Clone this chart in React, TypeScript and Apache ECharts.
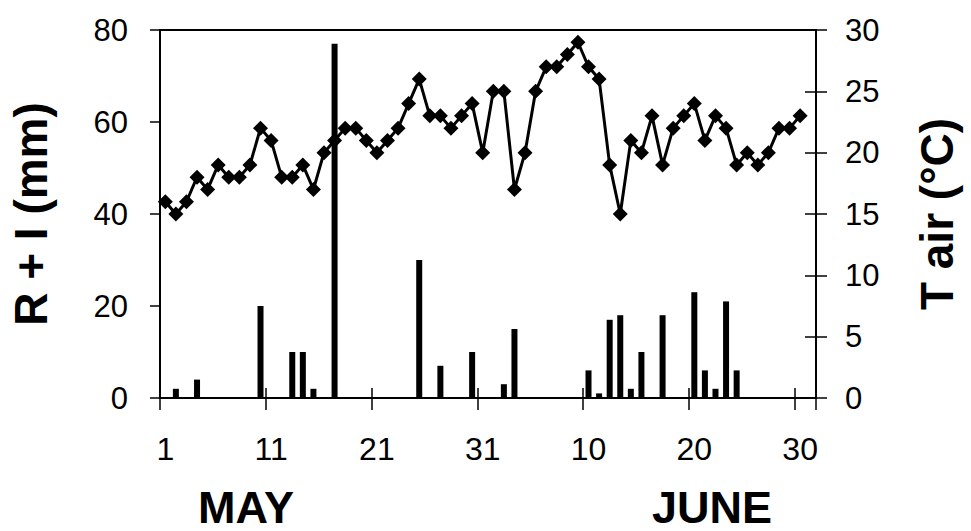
import React, { useEffect, useRef } from "react";
import * as echarts from "echarts";

// Day-of-month category labels: May 1–31, June 1–30, July 1
const mayDays: string[] = Array.from({ length: 31 }, (_, i) => String(i + 1));
const juneDays: string[] = Array.from({ length: 30 }, (_, i) => String(i + 1));
const julyDays: string[] = ["1"];
const categories: string[] = [...mayDays, ...juneDays, ...julyDays];

// Rain + irrigation (mm), one value per day
const rainIrrigation: number[] = [
  0, 2, 0, 4, 0, 0, 0, 0, 0, 20,
  0, 0, 10, 10, 2, 0, 77, 0, 0, 0,
  0, 0, 0, 0, 30, 0, 7, 0, 0, 10,
  0, 0, 3, 15, 0, 0, 0, 0, 0, 0,
  6, 1, 17, 18, 2, 10, 0, 18, 0, 0,
  23, 6, 2, 21, 6, 0, 0, 0, 0, 0,
  0, 0,
];

// Mean air temperature (°C), one value per day
const airTemp: (number | null)[] = [
  16, 15, 16, 18, 17, 19, 18, 18, 19, 22,
  21, 18, 18, 19, 17, 20, 21, 22, 22, 21,
  20, 21, 22, 24, 26, 23, 23, 22, 23, 24,
  20, 25, 25, 17, 20, 25, 27, 27, 28, 29,
  27, 26, 19, 15, 21, 20, 23, 19, 22, 23,
  24, 21, 23, 22, 19, 20, 19, 20, 22, 22,
  23, null,
];

const leftTicks = { min: 0, max: 80, interval: 20 };
const rightTicks = { min: 0, max: 30, interval: 5 };
const monthLabels = ["MAY", "JUNE"];

const FONT = "'Liberation Sans', Arial, Helvetica, sans-serif";
const BLACK = "#000";

export default function App() {
  const ref = useRef<HTMLDivElement>(null);

  useEffect(() => {
    if (!ref.current) return;
    const chart = echarts.init(ref.current, undefined, { renderer: "svg" });
    const tickStyle = { color: BLACK, width: 1.5 };
    const lineStyle = { color: BLACK, width: 2 };

    const monthText = (text: string, x: number) => ({
      type: "text",
      x,
      y: 507,
      style: {
        text,
        fontSize: 45,
        fontWeight: "bold",
        fontFamily: FONT,
        fill: BLACK,
        textAlign: "center",
        textVerticalAlign: "middle",
        align: "center",
        verticalAlign: "middle",
      },
    });

    const option: any = {
      animation: false,
      backgroundColor: "#fff",
      grid: {
        left: 156,
        right: 155,
        top: 30,
        bottom: 133,
        show: true,
        borderColor: BLACK,
        borderWidth: 2,
        backgroundColor: "transparent",
      },
      xAxis: [
        {
          type: "category",
          data: categories,
          boundaryGap: true,
          position: "bottom",
          axisLine: { show: true, lineStyle },
          axisTick: { show: true, interval: 9, length: 12, inside: false, lineStyle: tickStyle },
          axisLabel: {
            interval: 9,
            color: BLACK,
            fontSize: 32,
            fontFamily: FONT,
            margin: 35,
          },
          splitLine: { show: false },
        },
        {
          type: "category",
          data: categories,
          boundaryGap: true,
          position: "bottom",
          axisLine: { show: false },
          axisTick: { show: true, interval: 9, length: 10, inside: true, lineStyle: tickStyle },
          axisLabel: { show: false },
          splitLine: { show: false },
        },
      ],
      yAxis: [
        {
          type: "value",
          ...leftTicks,
          position: "left",
          name: "R + I (mm)",
          nameLocation: "middle",
          nameRotate: 90,
          nameGap: 106,
          nameTextStyle: { fontSize: 46, fontWeight: "bold", fontFamily: FONT, color: BLACK },
          axisLine: { show: true, lineStyle },
          axisTick: { show: true, length: 10, inside: false, lineStyle: tickStyle },
          axisLabel: { color: BLACK, fontSize: 31, fontFamily: FONT, margin: 32 },
          splitLine: { show: false },
        },
        {
          type: "value",
          ...rightTicks,
          position: "right",
          name: "T air (°C)",
          nameLocation: "middle",
          nameRotate: 90,
          nameGap: 98,
          nameTextStyle: { fontSize: 46, fontWeight: "bold", fontFamily: FONT, color: BLACK },
          axisLine: { show: true, lineStyle },
          axisTick: { show: true, length: 11, inside: false, lineStyle: tickStyle },
          axisLabel: { color: BLACK, fontSize: 31, fontFamily: FONT, margin: 29 },
          splitLine: { show: false },
        },
        {
          type: "value",
          ...rightTicks,
          position: "right",
          axisLine: { show: false },
          axisTick: { show: true, length: 11, inside: true, lineStyle: tickStyle },
          axisLabel: { show: false },
          splitLine: { show: false },
        },
      ],
      series: [
        {
          name: "R + I",
          type: "bar",
          xAxisIndex: 0,
          yAxisIndex: 0,
          data: rainIrrigation,
          barWidth: 6,
          itemStyle: { color: BLACK },
        },
        {
          name: "T air",
          type: "line",
          xAxisIndex: 0,
          yAxisIndex: 1,
          data: airTemp,
          symbol: "diamond",
          symbolSize: 15,
          showAllSymbol: true,
          lineStyle: { color: BLACK, width: 3 },
          itemStyle: { color: BLACK },
          z: 3,
        },
      ],
      graphic: [monthText(monthLabels[0], 246), monthText(monthLabels[1], 712)],
    };

    chart.setOption(option);
    return () => chart.dispose();
  }, []);

  return (
    <div
      ref={ref}
      style={{ position: "fixed", left: 0, top: 0, width: 971, height: 531, background: "#fff" }}
    />
  );
}
